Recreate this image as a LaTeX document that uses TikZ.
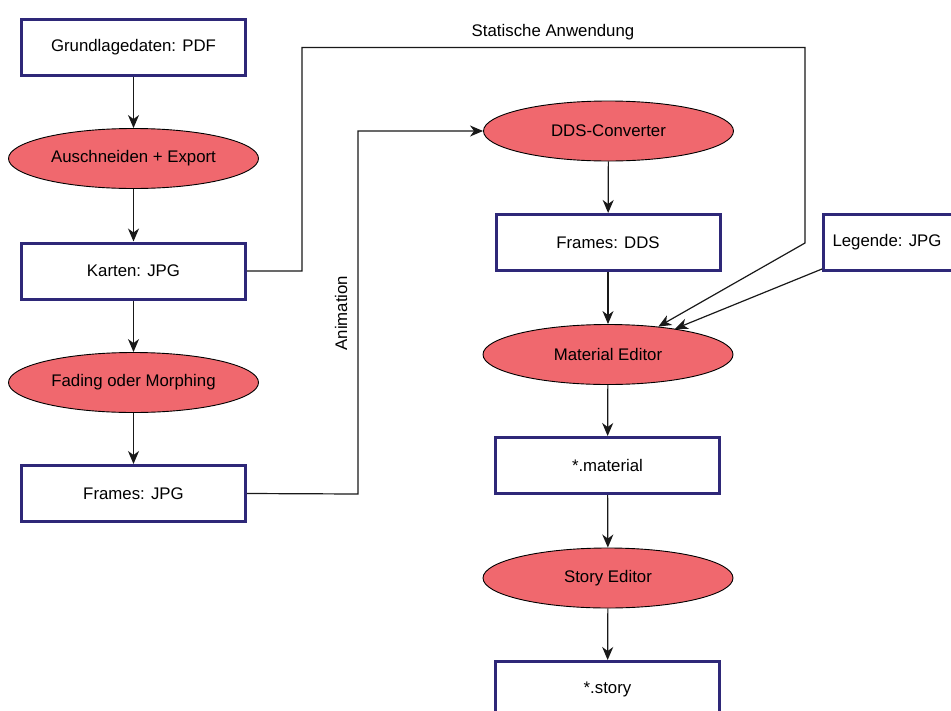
\documentclass[tikz,border=0pt]{standalone}
\usepackage{fontspec}
\setmainfont{Liberation Sans}
\usetikzlibrary{shapes.geometric,arrows.meta}
\definecolor{boxblue}{RGB}{46,40,120}
\definecolor{ellred}{RGB}{240,104,110}
\definecolor{linegray}{RGB}{25,25,25}
\tikzset{
  databox/.style={draw=boxblue,line width=3pt,fill=white,minimum width=224pt,minimum height=56pt,inner sep=0pt,font=\fontsize{16.8pt}{19pt}\selectfont},
  procell/.style={ellipse,draw=black,line width=0.9pt,fill=ellred,minimum width=250pt,minimum height=60pt,inner sep=0pt,font=\fontsize{16.8pt}{19pt}\selectfont},
  flow/.style={draw=linegray,line width=1.2pt,-{Stealth[length=13pt,width=11pt,inset=4pt]}},
  lbl/.style={font=\fontsize{16.8pt}{19pt}\selectfont,inner sep=0pt}
}
\begin{document}
\begin{tikzpicture}[x=1pt,y=-1pt]
\useasboundingbox (0,0) rectangle (951,710);
% left column
\node[databox] (g) at (133.5,47) {Grundlagedaten: PDF};
\node[procell] (ae) at (133.5,158.5) {Auschneiden + Export};
\node[databox] (k) at (133.5,271) {Karten: JPG};
\node[procell] (fm) at (133.5,382.5) {Fading oder Morphing};
\node[databox] (fj) at (133.5,493.5) {Frames: JPG};
% right column
\node[procell] (dds) at (608.5,131) {DDS-Converter};
\node[databox] (fd) at (608,242.5) {Frames: DDS};
\node[databox] (leg) at (935.5,242.5) {};
\node[lbl] (legt) at (887,242.5) {Legende: JPG};
\node[procell] (me) at (608,354.5) {Material Editor};
\node[databox] (mat) at (607.5,465.5) {*.material};
\node[procell] (se) at (608,578) {Story Editor};
\node[databox] (st) at (607.5,689.5) {*.story};
% vertical arrows
\draw[flow] (g) -- (ae);
\draw[flow] (ae) -- (k);
\draw[flow] (k) -- (fm);
\draw[flow] (fm) -- (fj);
\draw[flow] (dds) -- (fd);
\draw[flow] (fd) -- (me);
\draw[flow] (me) -- (mat);
\draw[flow] (mat) -- (se);
\draw[flow] (se) -- (st);
% Statische Anwendung
\coordinate (s1) at (302,271);
\coordinate (s2) at (302,47.5);
\coordinate (s3) at (805,47.5);
\coordinate (s4) at (805,243);
\draw[flow] (k.east) -- (s1) -- (s2) -- (s3) -- (s4) -- (me.29);
\node[lbl] (statl) at (553,32) {Statische Anwendung};
% Animation
\coordinate (a1) at (358,494);
\coordinate (a2) at (358,131);
\draw[flow] (fj.east) -- (a1) -- (a2) -- (dds.west);
\node[lbl,rotate=90] (animl) at (341,313) {Animation};
% Legende
\draw[flow] ([yshift=3pt]leg.south west) -- (me.21);
\end{tikzpicture}
\end{document}
